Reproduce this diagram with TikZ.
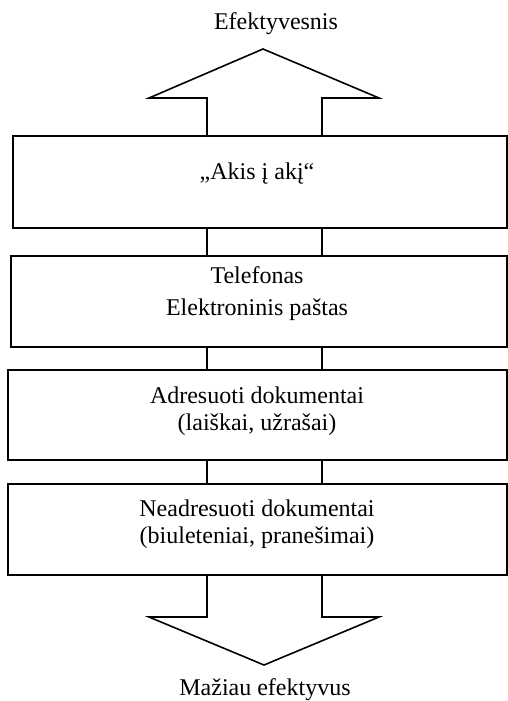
\documentclass[tikz,border=0pt]{standalone}
\usepackage{fontspec}
\setmainfont{Liberation Serif}
\usetikzlibrary{calc}

\begin{document}
\begin{tikzpicture}[x=1pt, y=-1pt, line width=1.6pt, line join=miter,
	every node/.style={font=\fontsize{24}{27}\selectfont},
	box/.style={draw, inner sep=0pt, anchor=north west},
	txt/.style={anchor=base, align=center, inner sep=0pt}]
	\useasboundingbox (0,0) rectangle (507,701);
	% shaft lines of the two big arrows
	\coordinate (sl) at (207,0);
	\coordinate (sr) at (322,0);
	% the four levels
	\node[box, minimum width=494pt, minimum height=92pt] (akis) at (12,135) {};
	\node[box, minimum width=496pt, minimum height=91pt] (tel) at (10,255) {};
	\node[box, minimum width=499pt, minimum height=90pt] (adr) at (7,369) {};
	\node[box, minimum width=499pt, minimum height=91pt] (neadr) at (7,483) {};
	\node[txt] (takis) at (257,179) {„Akis į akį“};
	\node[txt] (ttel) at (257,315) {Telefonas\\[5pt]Elektroninis paštas};
	\node[txt] (tadr) at (257,430) {Adresuoti dokumentai\\(laiškai, užrašai)};
	\node[txt] (tneadr) at (257,543) {Neadresuoti dokumentai\\(biuleteniai, pranešimai)};
	% arrow up
	\coordinate (uptip) at (263,49);
	\draw (akis.north -| sl) |- (149,98) -- (uptip) -- (379,98) -| (akis.north -| sr);
	\node[txt] (better) at (276,30) {Efektyvesnis};
	% pieces of shaft between the boxes
	\foreach \a/\b in {akis/tel, tel/adr, adr/neadr} {
		\draw (\a.south -| sl) -- (\b.north -| sl);
		\draw (\a.south -| sr) -- (\b.north -| sr);
	}
	% arrow down
	\coordinate (downtip) at (264,665);
	\draw (neadr.south -| sl) |- (149,617) -- (downtip) -- (379,617) -| (neadr.south -| sr);
	\node[txt] (worse) at (265,695) {Mažiau efektyvus};
\end{tikzpicture}
\end{document}
